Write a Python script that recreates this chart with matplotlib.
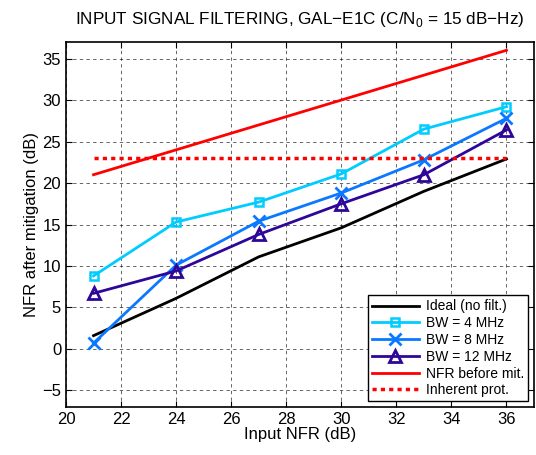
import matplotlib
matplotlib.use("Agg")
import matplotlib.pyplot as plt

plt.rcParams['font.family'] = ['Liberation Sans', 'DejaVu Sans']
plt.rcParams['mathtext.fontset'] = 'custom'
plt.rcParams['mathtext.rm'] = 'Liberation Sans'

x = [21, 24, 27, 30, 33, 36]
ideal = [1.6, 6.1, 11.1, 14.6, 19.0, 22.9]
bw4 = [8.8, 15.3, 17.7, 21.1, 26.5, 29.2]
bw8 = [0.7, 10.1, 15.4, 18.8, 22.8, 27.8]
bw12 = [6.7, 9.4, 13.8, 17.5, 21.0, 26.4]
nfr_before = [21, 36]
nfr_before_x = [21, 36]
inherent = [23, 23]
inherent_x = [21, 36]

xticks = [20, 22, 24, 26, 28, 30, 32, 34, 36]
yticks = [-5, 0, 5, 10, 15, 20, 25, 30, 35]

fig = plt.figure(figsize=(5.36, 4.55), dpi=100)
ax = fig.add_axes([66/536, 1-407/455, (534-66)/536, (407-42)/455])

ax.plot(x, ideal, color='black', lw=2, label='Ideal (no filt.)')
ax.plot(x, bw4, color='#00ccff', lw=2, marker='s', ms=6, mfc='none', mew=1.8, label='BW = 4 MHz')
ax.plot(x, bw8, color='#0a78ff', lw=2, marker='x', ms=9, mew=2, label='BW = 8 MHz')
ax.plot(x, bw12, color='#2e0699', lw=2, marker='^', ms=8, mfc='none', mew=2, label='BW = 12 MHz')
ax.plot(nfr_before_x, nfr_before, color='red', lw=2, label='NFR before mit.')
ax.plot(inherent_x, inherent, color='red', lw=2.5, ls=(0, (1.2, 1.2)), label='Inherent prot.')

ax.set_xlim(20, 37)
ax.set_ylim(-7, 37)
ax.set_xticks(xticks)
ax.set_yticks(yticks)
ax.grid(True, color='black', ls=(0, (4, 4)), lw=0.6, alpha=0.7)
ax.tick_params(direction='in', top=True, right=True, labelsize=12, length=4)
for s in ax.spines.values():
    s.set_linewidth(1.2)

ax.set_xlabel('Input NFR (dB)', fontsize=12, labelpad=0)
ax.set_ylabel('NFR after mitigation (dB)', fontsize=12, labelpad=2)
ax.set_title(r'INPUT SIGNAL FILTERING, GAL$-$E1C (C/N$_0$ = 15 dB$-$Hz)', fontsize=12.3, pad=13)

leg = ax.legend(loc='lower right', fontsize=10, fancybox=False, edgecolor='black',
                framealpha=1, borderaxespad=0.4, handlelength=3.4, labelspacing=0.2,
                borderpad=0.3, handletextpad=0.5)
leg.get_frame().set_linewidth(1.0)

fig.savefig('out.png', dpi=100)
